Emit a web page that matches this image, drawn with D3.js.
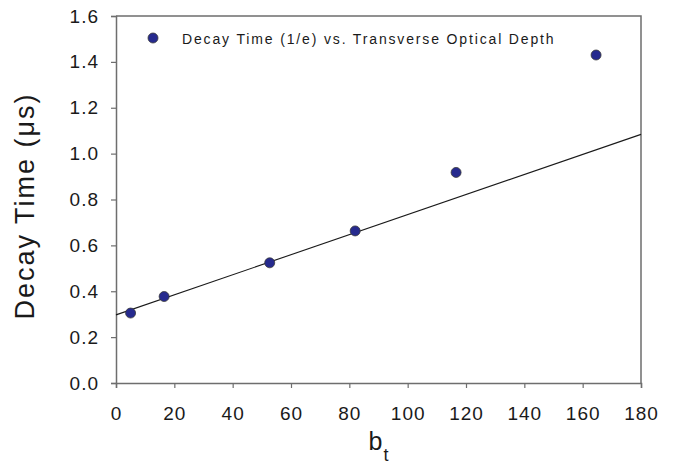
<!DOCTYPE html>
<html>
<head>
<meta charset="utf-8">
<script src="https://cdn.jsdelivr.net/npm/d3@7"></script>
<style>
  html, body { margin: 0; padding: 0; background: #fff; }
  svg { display: block; }
</style>
</head>
<body>
<svg id="chart" width="676" height="476"></svg>
<script>
// Measured decay times against transverse optical depth
const opticalDepth = [5, 16.5, 52.7, 82.0, 116.6, 164.6];
const decayTime = [0.305, 0.377, 0.524, 0.663, 0.918, 1.430];

// Linear fit drawn across the full x range
const fitX = [0, 180];
const fitY = [0.297, 1.084];

const xTicks = [0, 20, 40, 60, 80, 100, 120, 140, 160, 180];
const yTicks = [0.0, 0.2, 0.4, 0.6, 0.8, 1.0, 1.2, 1.4, 1.6];

const legendLabel = "Decay Time (1/e) vs. Transverse Optical Depth";

const svg = d3.select("#chart");
const plotLeft = 116, plotRight = 641, plotTop = 16, plotBottom = 383;
const axisColor = "#6e6e6e";
const font = "Arial, 'Liberation Sans', sans-serif";

const x = d3.scaleLinear().domain([0, 180]).range([plotLeft, plotRight]);
const y = d3.scaleLinear().domain([0, 1.6]).range([plotBottom, plotTop]);

// frame (top and right edges)
svg.append("path")
  .attr("d", `M${plotLeft},${plotTop}H${plotRight}V${plotBottom}`)
  .attr("fill", "none").attr("stroke", axisColor).attr("stroke-width", 1.5);

const xAxis = svg.append("g")
  .attr("transform", `translate(0,${plotBottom})`)
  .call(d3.axisBottom(x).tickValues(xTicks).tickSize(5).tickPadding(19).tickFormat(d3.format("d")));
const yAxis = svg.append("g")
  .attr("transform", `translate(${plotLeft},0)`)
  .call(d3.axisLeft(y).tickValues(yTicks).tickSize(5).tickPadding(12).tickFormat(d3.format(".1f")));

[xAxis, yAxis].forEach(g => {
  g.select(".domain").attr("stroke", axisColor).attr("stroke-width", 1.5);
  g.selectAll(".tick line").attr("stroke", axisColor).attr("stroke-width", 1.2);
  g.selectAll(".tick text")
    .attr("fill", "#1a1a1a")
    .style("font-family", font)
    .style("font-size", "19px")
    .style("letter-spacing", "1px");
});

// fit line
svg.append("line")
  .attr("x1", x(fitX[0])).attr("y1", y(fitY[0]))
  .attr("x2", x(fitX[1])).attr("y2", y(fitY[1]))
  .attr("stroke", "#1a1a1a").attr("stroke-width", 1.1);

// data points
svg.append("g").selectAll("circle")
  .data(opticalDepth.map((d, i) => [d, decayTime[i]]))
  .join("circle")
  .attr("cx", d => x(d[0])).attr("cy", d => y(d[1]))
  .attr("r", 5)
  .attr("fill", "#262a8e").attr("stroke", "#3a3a3a").attr("stroke-width", 0.8);

// legend
svg.append("circle")
  .attr("cx", 153).attr("cy", 38).attr("r", 5)
  .attr("fill", "#262a8e").attr("stroke", "#3a3a3a").attr("stroke-width", 0.8);
svg.append("text")
  .attr("x", 182).attr("y", 43.5)
  .style("font-family", font).style("font-size", "14px")
  .style("letter-spacing", "1.85px")
  .attr("fill", "#1a1a1a")
  .text(legendLabel);

// axis titles
const xt = svg.append("text")
  .attr("x", (plotLeft + plotRight) / 2).attr("y", 450)
  .attr("text-anchor", "middle")
  .style("font-family", font).style("font-size", "25px").attr("fill", "#1a1a1a");
xt.append("tspan").text("b");
xt.append("tspan").attr("dx", 1).attr("dy", 11).style("font-size", "18px").text("t");

svg.append("text")
  .attr("transform", `translate(34,206) rotate(-90)`)
  .attr("text-anchor", "middle")
  .style("font-family", font).style("font-size", "27px")
  .style("letter-spacing", "2px")
  .attr("fill", "#1a1a1a")
  .text("Decay Time (\u03bcs)");
</script>
</body>
</html>
